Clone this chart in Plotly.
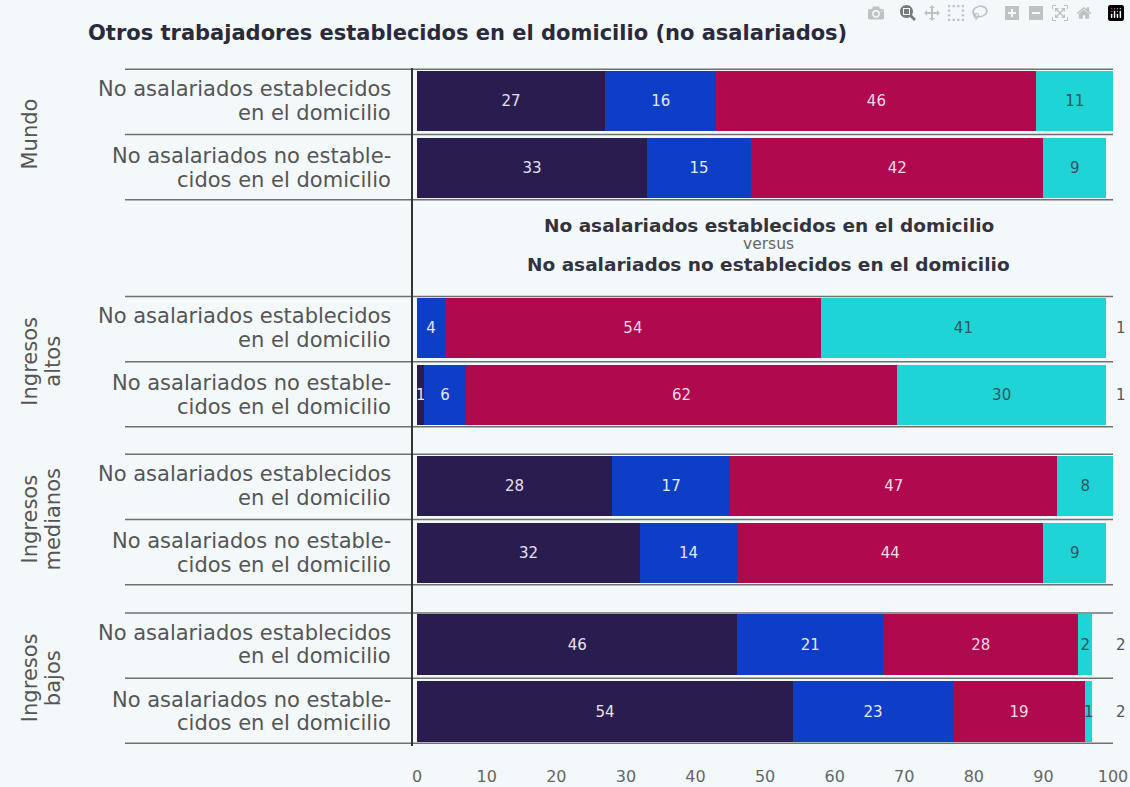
import plotly.graph_objects as go

# ---------------- data ----------------
row_line1 = ["No asalariados establecidos", "No asalariados no estable-"] * 4
row_line2 = ["en el domicilio", "cidos en el domicilio"] * 4
group_line1 = ["Mundo", "Ingresos", "Ingresos", "Ingresos"]
group_line2 = ["", "altos", "medianos", "bajos"]

seg1 = [27, 33, 0, 1, 28, 32, 46, 54]     # dark navy
seg2 = [16, 15, 4, 6, 17, 14, 21, 23]     # blue
seg3 = [46, 42, 54, 62, 47, 44, 28, 19]   # crimson
seg4 = [11, 9, 41, 30, 8, 9, 2, 1]        # cyan
other = [None, None, 1, 1, None, None, 2, 2]  # values shown outside the bar

x_ticks = [0, 10, 20, 30, 40, 50, 60, 70, 80, 90, 100]

title_text = "Otros trabajadores establecidos en el domicilio (no asalariados)"
versus_top = "No asalariados establecidos en el domicilio"
versus_mid = "versus"
versus_bot = "No asalariados no establecidos en el domicilio"

# ---------------- layout helpers ----------------
y_pos = [0, 1, 3.38, 4.38, 5.73, 6.73, 8.09, 9.09]
colors = ["#2b1c4f", "#0e3ec6", "#b0094d", "#1fd4d4"]
txtcolors = ["#e4e2ee", "#e4e8f6", "#f3dde6", "#2f5560"]
FONT = "DejaVu Sans"
BG = "#f3f8fa"
PX0, PX1 = 413, 1113  # plot area in pixels (for paper coords)


def xpaper(px):
    return (px - PX0) / (PX1 - PX0)


fig = go.Figure()
for vals, col, tc in zip([seg1, seg2, seg3, seg4], colors, txtcolors):
    fig.add_trace(go.Bar(
        x=vals, y=y_pos, orientation="h", width=0.9,
        marker=dict(color=col, line=dict(width=0)),
        text=[str(v) if v else "" for v in vals],
        textposition="inside", insidetextanchor="middle",
        constraintext="none",
        textfont=dict(family=FONT, size=15, color=tc),
        hoverinfo="skip", showlegend=False,
    ))

totals = [a + b + c + d for a, b, c, d in zip(seg1, seg2, seg3, seg4)]
rest = [100 - t for t in totals]
fig.add_trace(go.Bar(
    x=rest, y=y_pos, orientation="h", width=0.9,
    marker=dict(color="rgba(0,0,0,0)", line=dict(width=0)),
    text=[str(v) if v else "" for v in other],
    textposition="outside", cliponaxis=False, constraintext="none",
    textfont=dict(family=FONT, size=15, color="#555555"),
    hoverinfo="skip", showlegend=False,
))

# separator lines
shapes = []
for i in range(0, 8, 2):
    p1, p2 = y_pos[i], y_pos[i + 1]
    for yy in (p1 - 0.47, (p1 + p2) / 2, p2 + 0.47):
        shapes.append(dict(type="line", xref="paper", yref="y",
                           x0=xpaper(125), x1=1, y0=yy, y1=yy,
                           line=dict(color="#707070", width=1.5), layer="below"))

annotations = []
# row labels (two lines, right aligned)
for yy, l1, l2 in zip(y_pos, row_line1, row_line2):
    for txt, dy in ((l1, -0.175), (l2, 0.175)):
        annotations.append(dict(text=txt, xref="paper", yref="y", x=xpaper(393),
                                y=yy + dy, xanchor="right", yanchor="middle",
                                showarrow=False,
                                font=dict(family=FONT, size=21, color="#555555")))
# group labels (rotated)
for i in range(4):
    mid = (y_pos[2 * i] + y_pos[2 * i + 1]) / 2
    for txt, px in ((group_line1[i], 30), (group_line2[i], 53)):
        if txt:
            annotations.append(dict(text=txt, xref="paper", yref="y", x=xpaper(px),
                                    y=mid, textangle=-90, showarrow=False,
                                    xanchor="center", yanchor="middle",
                                    font=dict(family=FONT, size=21, color="#555555")))

annotations += [
    dict(text="<b>" + versus_top + "</b>", x=50.5, y=1.85, xref="x", yref="y",
         showarrow=False, font=dict(family=FONT, size=18.5, color="#333340")),
    dict(text=versus_mid, x=50.5, y=2.13, xref="x", yref="y",
         showarrow=False, font=dict(family=FONT, size=15.5, color="#666666")),
    dict(text="<b>" + versus_bot + "</b>", x=50.5, y=2.43, xref="x", yref="y",
         showarrow=False, font=dict(family=FONT, size=18.5, color="#333340")),
]

fig.update_layout(
    width=1130, height=787, autosize=False,
    margin=dict(l=PX0, r=1130 - PX1, t=68, b=41, autoexpand=False),
    barmode="stack",
    paper_bgcolor=BG, plot_bgcolor=BG,
    title=dict(text="<b>" + title_text + "</b>", xref="container", yref="container",
               x=88 / 1130, y=1 - 33 / 787, xanchor="left", yanchor="middle",
               font=dict(family=FONT, size=21, color="#2a2a3a")),
    xaxis=dict(range=[-0.6, 100], tickvals=x_ticks, ticktext=[str(t) for t in x_ticks],
               showgrid=False, zeroline=False, showline=False, automargin=False,
               ticklabelstandoff=19,
               tickfont=dict(family=FONT, size=16, color="#666666")),
    yaxis=dict(range=[9.6, -0.49], tickvals=y_pos, showticklabels=False,
               showgrid=False, zeroline=False, showline=True, automargin=False,
               linecolor="#333333", linewidth=1.5),
    shapes=shapes, annotations=annotations,
)

fig.write_html("out.html",
               post_script="document.body.style.margin='0px';"
                           "document.body.style.overflow='hidden';")
